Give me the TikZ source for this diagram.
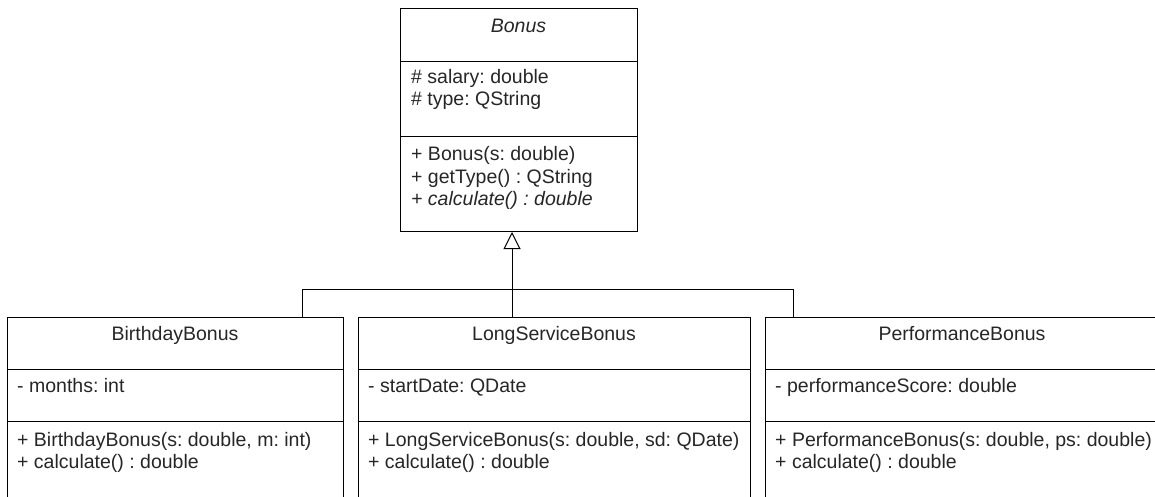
\documentclass[tikz,border=0pt]{standalone}
\usepackage{fontspec}
\setmainfont{Liberation Sans}
\usetikzlibrary{arrows.meta}
\frenchspacing
\begin{document}
\begin{tikzpicture}[x=1pt,y=-1pt,
  classbox/.style={draw=black, line width=1pt, inner sep=0pt, anchor=north west, minimum width=#1},
  divline/.style={line width=1pt},
  ttl/.style={font=\fontsize{19.5}{22}\selectfont, inner sep=0pt, text height=14pt, text depth=4pt, anchor=center, text=black!85},
  mem/.style={font=\fontsize{19.5}{22}\selectfont, inner sep=0pt, text height=14pt, text depth=4pt, anchor=west, text=black!85},
  edge/.style={line width=1pt, draw=black},
  gen/.style={line width=1pt, draw=black, -{Triangle[open, width=17pt, length=17pt]}}
]
\useasboundingbox (0,0) rectangle (1155,496);

% Bonus
\node[classbox=237pt, minimum height=223pt] (bonus) at (400,8) {};
\draw[divline] (400,61) -- (637,61);
\draw[divline] (400,136) -- (637,136);
\node[ttl] (bt) at (518.5,27) {\itshape Bonus};
\node[mem] (ba1) at (411,78) {\# salary: double};
\node[mem] (ba2) at (411,100) {\# type: QString};
\node[mem] (bm1) at (411,155) {+ Bonus(s: double)};
\node[mem] (bm2) at (411,178) {+ getType() : QString};
\node[mem] (bm3) at (411,200) {\itshape + calculate() : double};

% BirthdayBonus
\node[classbox=336pt, minimum height=210pt] (bb) at (7,317) {};
\draw[divline] (7,369) -- (343,369);
\draw[divline] (7,421) -- (343,421);
\node[ttl] (bbt) at (175,335) {BirthdayBonus};
\node[mem] (bba) at (17,387) {- months: int};
\node[mem] (bbm1) at (17,441) {+ BirthdayBonus(s: double, m: int)};
\node[mem] (bbm2) at (17,463) {+ calculate() : double};

% LongServiceBonus
\node[classbox=392pt, minimum height=210pt] (lb) at (358,317) {};
\draw[divline] (358,369) -- (750,369);
\draw[divline] (358,421) -- (750,421);
\node[ttl] (lbt) at (554,335) {LongServiceBonus};
\node[mem] (lba) at (368,387) {- startDate: QDate};
\node[mem] (lbm1) at (368,441) {+ LongServiceBonus(s: double, sd: QDate)};
\node[mem] (lbm2) at (368,463) {+ calculate() : double};

% PerformanceBonus
\node[classbox=394pt, minimum height=210pt] (pb) at (765,317) {};
\draw[divline] (765,369) -- (1159,369);
\draw[divline] (765,421) -- (1159,421);
\node[ttl] (pbt) at (962,335) {PerformanceBonus};
\node[mem] (pba) at (775,387) {- performanceScore: double};
\node[mem] (pbm1) at (775,441) {+ PerformanceBonus(s: double, ps: double)};
\node[mem] (pbm2) at (775,463) {+ calculate() : double};

% generalization
\coordinate (jn) at (512,289);
\coordinate (kb) at (302,289);
\coordinate (kp) at (793,289);
\draw[edge] (bb.north -| kb) -- (kb) -- (kp) -- (pb.north -| kp);
\draw[gen] (lb.north -| jn) -- (bonus.south -| jn);
\end{tikzpicture}
\end{document}
